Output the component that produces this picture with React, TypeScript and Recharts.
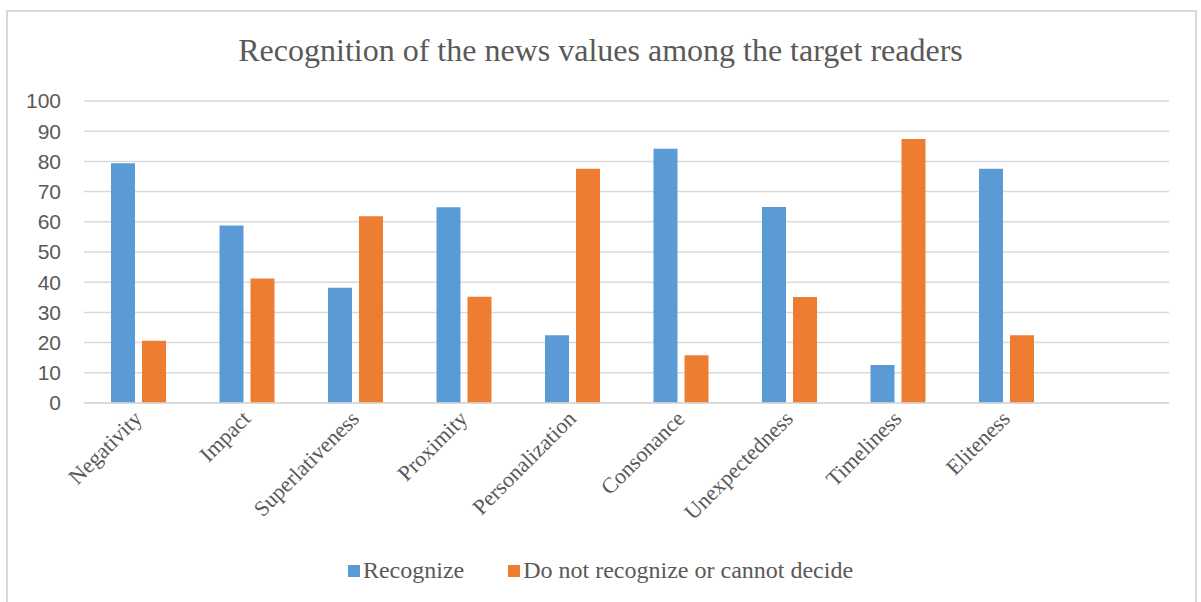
import React from 'react';
import { BarChart, Bar, XAxis, YAxis, CartesianGrid, Legend } from 'recharts';

const categories = ['Negativity', 'Impact', 'Superlativeness', 'Proximity', 'Personalization', 'Consonance', 'Unexpectedness', 'Timeliness', 'Eliteness', ''];
const recognize = [79.4, 58.8, 38.2, 64.8, 22.4, 84.2, 64.9, 12.6, 77.6, null];
const notRecognize = [20.6, 41.2, 61.8, 35.2, 77.6, 15.8, 35.1, 87.4, 22.4, null];
const yTicks = [0, 10, 20, 30, 40, 50, 60, 70, 80, 90, 100];
const seriesNames = ['Recognize', 'Do not recognize or cannot decide'];
const colors = ['#5B9BD5', '#ED7D31'];

const data = categories.map((name, i) => ({ name, a: recognize[i], b: notRecognize[i] }));

const SERIF = "'Times New Roman', 'Liberation Serif', serif";
const SANS = "'Liberation Sans', Arial, sans-serif";

const LegendContent = () => (
  <div style={{ display: 'flex', justifyContent: 'center', alignItems: 'center', fontFamily: SERIF, fontSize: 24, color: '#595959' }}>
    {seriesNames.map((n, i) => (
      <div key={n} style={{ display: 'flex', alignItems: 'center', marginRight: i === 0 ? 44 : 0 }}>
        <span style={{ display: 'inline-block', width: 12, height: 12, background: colors[i], marginRight: 3 }} />
        <span>{n}</span>
      </div>
    ))}
  </div>
);

export default function App() {
  return (
    <div style={{ position: 'absolute', left: 0, top: 0, width: 1201, height: 602, background: '#fff', overflow: 'hidden' }}>
      <div style={{ position: 'absolute', left: 6, top: 10, width: 1191, height: 620, border: '2px solid #d9d9d9', boxSizing: 'border-box' }} />
      <div style={{ position: 'absolute', left: 0, top: 30, width: 1201, textAlign: 'center', fontFamily: SERIF, fontSize: 32, color: '#595959', lineHeight: '40px' }}>
        Recognition of the news values among the target readers
      </div>
      <div style={{ position: 'absolute', left: 0, top: 0 }}>
        <BarChart width={1201} height={602} data={data} margin={{ top: 101, right: 32, left: 0, bottom: 99 }} barGap={7} barSize={24}>
          <CartesianGrid vertical={false} stroke="#d9d9d9" strokeWidth={1.5} />
          <XAxis dataKey="name" interval={0} height={100} tickLine={false} axisLine={{ stroke: '#d9d9d9', strokeWidth: 1.5 }} angle={-45} textAnchor="end" tick={{ fontFamily: SERIF, fontSize: 22, fill: '#595959', dx: -6 }} tickMargin={0} />
          <YAxis domain={[0, 100]} ticks={yTicks} width={84} axisLine={false} tickLine={false} tickSize={0} tickMargin={23} tick={{ fontFamily: SANS, fontSize: 21, fill: '#595959' }} interval={0} />
          <Legend layout="horizontal" verticalAlign="middle" align="center" wrapperStyle={{ top: 557, left: 0, width: 1201 }} content={<LegendContent />} />
          <Bar dataKey="a" name={seriesNames[0]} fill={colors[0]} isAnimationActive={false} />
          <Bar dataKey="b" name={seriesNames[1]} fill={colors[1]} isAnimationActive={false} />
        </BarChart>
      </div>
    </div>
  );
}
